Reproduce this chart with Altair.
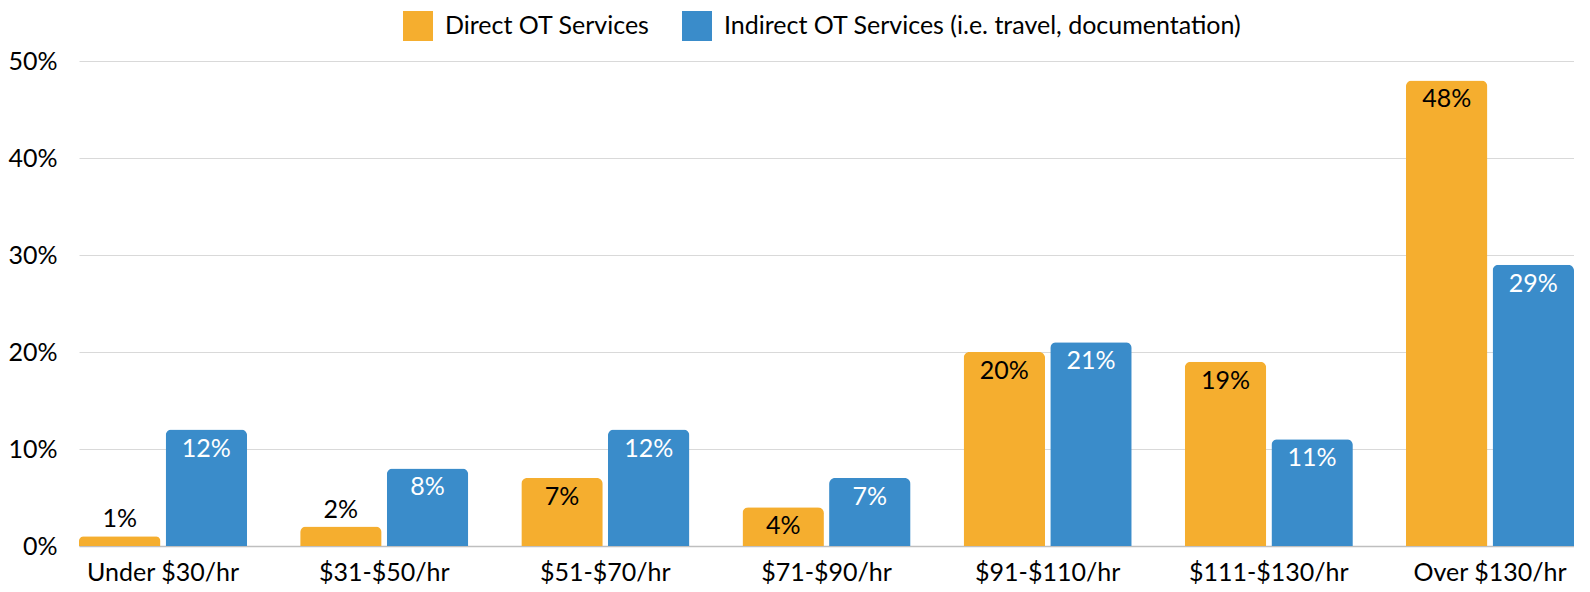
import altair as alt
import pandas as pd

categories = ["Under $30/hr", "$31-$50/hr", "$51-$70/hr", "$71-$90/hr",
              "$91-$110/hr", "$111-$130/hr", "Over $130/hr"]
series_names = ["Direct OT Services", "Indirect OT Services (i.e. travel, documentation)"]
direct = [1, 2, 7, 4, 20, 19, 48]
indirect = [12, 8, 12, 7, 21, 11, 29]
colors = ["#F5AE2F", "#3A8CCA"]

rows = []
for c, d, i in zip(categories, direct, indirect):
    rows.append({"cat": c, "series": series_names[0], "v": d / 100, "lbl": f"{d}%"})
    rows.append({"cat": c, "series": series_names[1], "v": i / 100, "lbl": f"{i}%"})
df = pd.DataFrame(rows)

FONT = "Lato"

x = alt.X("cat:N", sort=categories, title=None,
          scale=alt.Scale(paddingInner=0.24, paddingOuter=0),
          axis=alt.Axis(labelAngle=0, labelFontSize=25, labelFont=FONT, labelColor="#000",
                        ticks=False, domainColor="#bfbfbf", domainWidth=1.5,
                        labelPadding=34, labelBaseline="alphabetic"))
xo = alt.XOffset("series:N", sort=series_names, scale=alt.Scale(paddingInner=0.06))
y = alt.Y("v:Q", title=None,
          scale=alt.Scale(domain=[0, 0.5], nice=False),
          axis=alt.Axis(format=".0%", values=[0, 0.1, 0.2, 0.3, 0.4, 0.5],
                        labelFontSize=25, labelFont=FONT, labelColor="#000",
                        labelPadding=22, ticks=False, domain=False,
                        gridColor="#d9d9d9", gridWidth=1))

base = alt.Chart(df)

bars = base.mark_bar(cornerRadiusTopLeft=6, cornerRadiusTopRight=6).encode(
    x=x, xOffset=xo, y=y,
    color=alt.Color("series:N", sort=series_names,
                    scale=alt.Scale(domain=series_names, range=colors),
                    legend=alt.Legend(title=None, orient="none", direction="horizontal",
                                      legendX=324, legendY=-50, padding=0,
                                      symbolType="square", symbolSize=900,
                                      symbolStrokeWidth=0, symbolOpacity=1,
                                      labelFontSize=25, labelFont=FONT, labelColor="#000",
                                      labelOffset=12, columnPadding=32, labelLimit=1000)))

txt_color = alt.condition(f"datum.series == '{series_names[1]}'", alt.value("white"), alt.value("black"))

inside = base.transform_filter("datum.v >= 0.03").mark_text(
    dy=27, baseline="alphabetic", fontSize=25, font=FONT).encode(
    x=x, xOffset=xo, y=y, text="lbl:N", color=txt_color)

outside = base.transform_filter("datum.v < 0.03").mark_text(
    dy=-9, baseline="alphabetic", fontSize=25, font=FONT).encode(
    x=x, xOffset=xo, y=y, text="lbl:N", color=alt.value("black"))

chart = alt.layer(bars, inside, outside).properties(
    width=1495, height=485,
    padding={"left": 71, "top": 53, "right": 0, "bottom": 38},
    autosize=alt.AutoSizeParams(type="none"),
).configure_view(stroke=None)

chart.save("out.html", embed_options={"renderer": "svg", "actions": False})
